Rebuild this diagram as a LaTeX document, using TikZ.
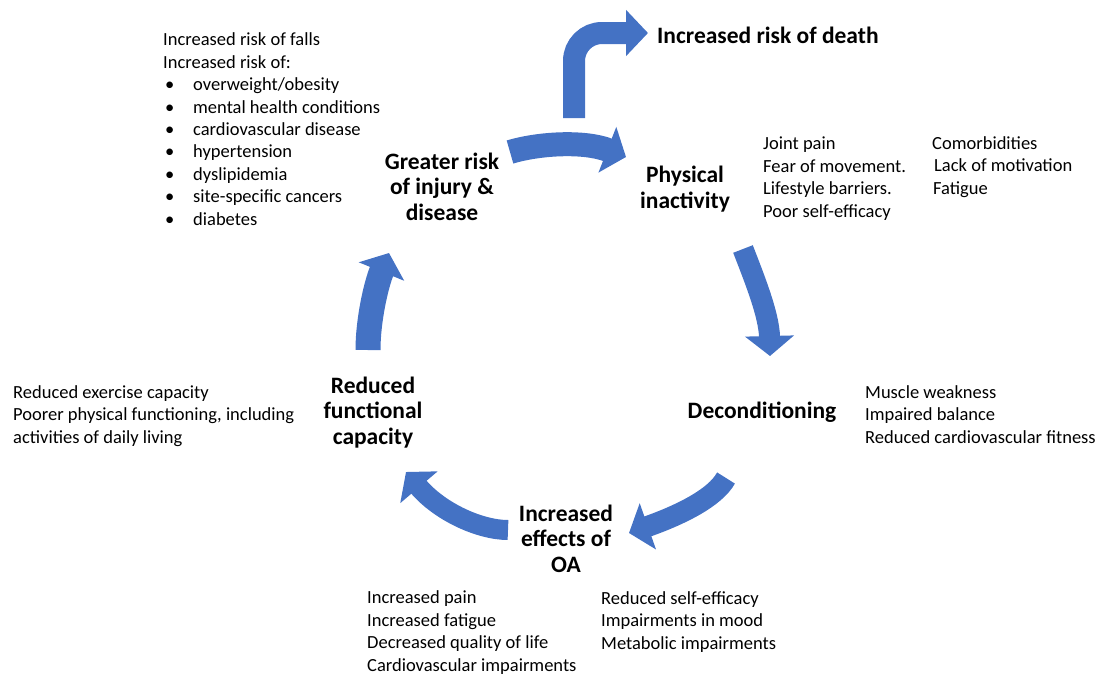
\documentclass[tikz,border=0pt]{standalone}
\usepackage{fontspec}
\setmainfont{Carlito}
\usetikzlibrary{arrows.meta}
\definecolor{oablue}{HTML}{4472C4}
\tikzset{
  body/.style={font=\fontsize{18.5}{22.4}\selectfont, inner sep=0pt, align=left},
  stage/.style={font=\bfseries\fontsize{23.5}{25.5}\selectfont, inner sep=0pt, align=center},
  cyc/.style={draw=oablue, line width=22pt, -{Triangle[length=20pt,width=48pt]}},
}
\begin{document}
\begin{tikzpicture}[x=1pt, y=-1pt]
\path[use as bounding box] (0,0) rectangle (1101,675);

% stage labels of the cycle (base anchor = baseline of the last line)
\node[stage, anchor=base west] (death) at (657,43) {Increased risk of death};
\node[stage, anchor=base] (risk) at (442,220) {Greater risk\\of injury \&\\disease};
\node[stage, anchor=base] (inact) at (685,208) {Physical\\inactivity};
\node[stage, anchor=base] (decond) at (762,418) {Deconditioning};
\node[stage, anchor=base] (oa) at (566,572) {Increased\\effects of\\OA};
\node[stage, anchor=base] (func) at (373,444) {Reduced\\functional\\capacity};

% explanatory lists
\node[body, anchor=base west] (riskl) at (163,225) {Increased risk of falls\\
Increased risk of:\\
\hspace*{2pt}\makebox[28pt][l]{•}overweight/obesity\\
\hspace*{2pt}\makebox[28pt][l]{•}mental health conditions\\
\hspace*{2pt}\makebox[28pt][l]{•}cardiovascular disease\\
\hspace*{2pt}\makebox[28pt][l]{•}hypertension\\
\hspace*{2pt}\makebox[28pt][l]{•}dyslipidemia\\
\hspace*{2pt}\makebox[28pt][l]{•}site-specific cancers\\
\hspace*{2pt}\makebox[28pt][l]{•}diabetes};
\node[body, anchor=base west] (inactl) at (763,217) {Joint pain\\Fear of movement.\\Lifestyle barriers.\\Poor self-efficacy};
\node[body, anchor=base west] (inactr) at (932,194) {Comorbidities\\\hspace*{2pt}Lack of motivation\\\hspace*{1pt}Fatigue};
\node[body, anchor=base west] (decondl) at (865,443) {Muscle weakness\\Impaired balance\\Reduced cardiovascular fitness};
\node[body, anchor=base west] (oal) at (367,671) {Increased pain\\Increased fatigue\\Decreased quality of life\\Cardiovascular impairments};
\node[body, anchor=base west] (oar) at (601,649) {Reduced self-efficacy\\Impairments in mood\\Metabolic impairments};
\node[body, anchor=base west] (funcl) at (13,443) {Reduced exercise capacity\\Poorer physical functioning, including\\activities of daily living};

% arrow end points
\coordinate (d0) at (574,118);
\coordinate (d1) at (648,33);
\coordinate (a1s) at (510,152);
\coordinate (a1e) at (626,157);
\coordinate (a2s) at (743,249);
\coordinate (a2e) at (770,356);
\coordinate (a3s) at (726,478);
\coordinate (a3e) at (629,533);
\coordinate (a4s) at (508,530);
\coordinate (a4e) at (406,472);
\coordinate (a5s) at (368,350);
\coordinate (a5e) at (389,253);

% branch to death
\draw[cyc, rounded corners=28pt, -{Triangle[length=22pt,width=45pt]}] (d0) |- (d1);
% the cycle
\draw[cyc, line width=24pt] (a1s) .. controls (540,143) and (585,141) .. (a1e);
\draw[cyc, line width=21pt] (a2s) .. controls (755,280) and (769,315) .. (a2e);
\draw[cyc, line width=21pt] (a3s) .. controls (715,498) and (680,515) .. (a3e);
\draw[cyc, line width=20pt] (a4s) .. controls (480,530) and (440,512) .. (a4e);
\draw[cyc, line width=25pt] (a5s) .. controls (368,320) and (376,285) .. (a5e);
\end{tikzpicture}
\end{document}
